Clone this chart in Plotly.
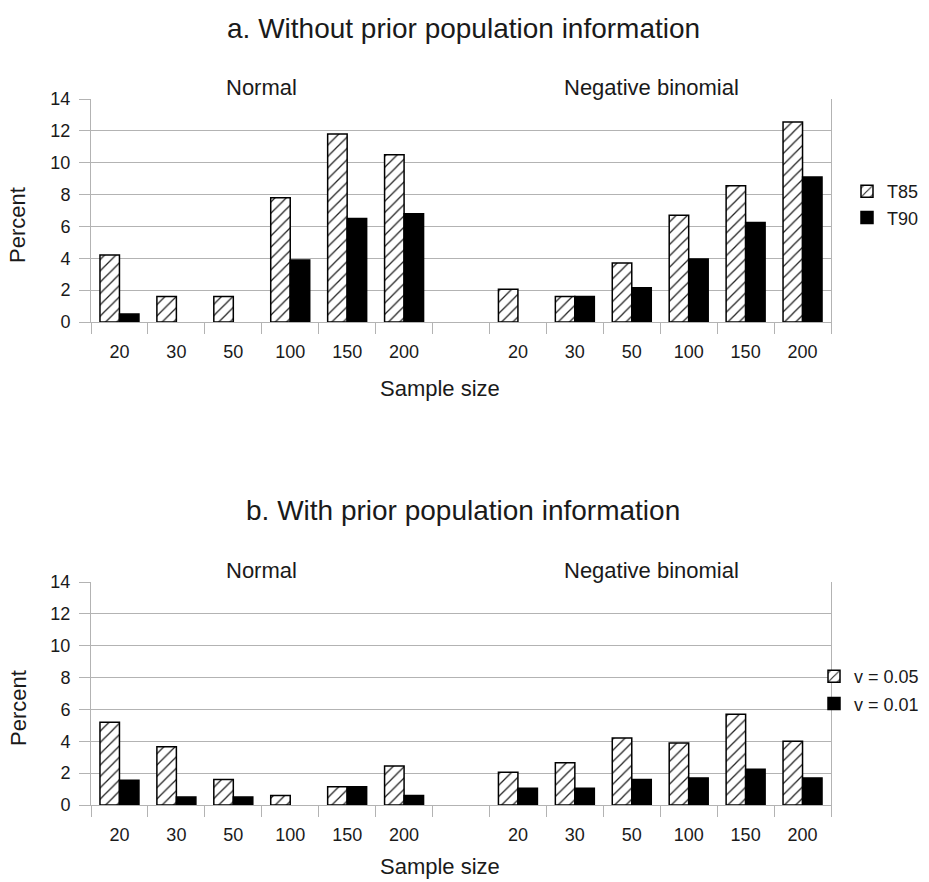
import plotly.graph_objects as go

# ---- data ----
sample_sizes = ["20", "30", "50", "100", "150", "200"]
groups = ["Normal", "Negative binomial"]

# a. Without prior population information
a_t85_normal = [4.2, 1.6, 1.6, 7.8, 11.8, 10.5]
a_t90_normal = [0.5, 0, 0, 3.9, 6.5, 6.8]
a_t85_negbin = [2.05, 1.6, 3.7, 6.7, 8.55, 12.55]
a_t90_negbin = [0, 1.6, 2.15, 3.95, 6.25, 9.1]

# b. With prior population information
b_v05_normal = [5.2, 3.65, 1.6, 0.6, 1.15, 2.45]
b_v01_normal = [1.55, 0.5, 0.5, 0, 1.15, 0.6]
b_v05_negbin = [2.05, 2.65, 4.2, 3.9, 5.7, 4.0]
b_v01_negbin = [1.05, 1.05, 1.6, 1.7, 2.25, 1.7]

# category positions: 6 normal slots, one empty slot, 6 negative-binomial slots
n = len(sample_sizes)
pos = list(range(n)) + [n + 1 + i for i in range(n)]
ticklabels = sample_sizes + sample_sizes
boundaries = [i - 0.5 for i in range(2 * n + 2)]

FONT = "Liberation Sans, Arial, sans-serif"
GRID = "#b3b3b3"
TXT = "#1a1a1a"

W, H = 929, 882
def px(x):
    return x / W
def py(y):
    return 1 - y / H

def nz(vals):
    # zero-height bars are not drawn in the reference
    return [v if v > 0 else None for v in vals]

fig = go.Figure()

hatch = dict(shape="/", fgcolor="#222222", bgcolor="white", size=8, solidity=0.16)

def add_pair(v1, v2, name1, name2, xa, ya, leg):
    fig.add_trace(go.Bar(
        x=pos, y=nz(v1), name=name1, xaxis=xa, yaxis=ya, legend=leg,
        legendgroup=leg + "1",
        marker=dict(color="white", pattern=hatch, line=dict(color="black", width=1.5)),
    ))
    fig.add_trace(go.Bar(
        x=pos, y=nz(v2), name=name2, xaxis=xa, yaxis=ya, legend=leg,
        legendgroup=leg + "2",
        marker=dict(color="black", line=dict(color="black", width=1.5)),
    ))

add_pair(a_t85_normal + a_t85_negbin, a_t90_normal + a_t90_negbin, "T85", "T90", "x", "y", "legend")
add_pair(b_v05_normal + b_v05_negbin, b_v01_normal + b_v01_negbin, "v = 0.05", "v = 0.01", "x2", "y2", "legend2")

xcommon = dict(
    range=[-0.5, 2 * n + 0.5], tickmode="array", tickvals=pos, ticktext=ticklabels,
    ticks="outside", ticklen=13, tickcolor="rgba(0,0,0,0)",
    showgrid=False, zeroline=False, showline=True, linecolor=GRID, linewidth=1,
    tickfont=dict(family=FONT, size=18, color=TXT),
    minor=dict(tickmode="array", tickvals=boundaries, ticks="outside", ticklen=11,
               tickcolor=GRID, tickwidth=1, showgrid=False),
    fixedrange=True, automargin=False,
)
ycommon = dict(
    range=[0, 14], dtick=2, tick0=0, ticks="outside", ticklen=11, tickcolor=GRID,
    showgrid=True, gridcolor=GRID, gridwidth=1, zeroline=False,
    showline=True, linecolor=GRID, linewidth=1, mirror=True,
    tickfont=dict(family=FONT, size=18, color=TXT), ticklabelstandoff=5,
    fixedrange=True, automargin=False,
)

dom_x = [px(91), px(831)]
fig.update_layout(
    template="none",
    width=W, height=H,
    margin=dict(l=0, r=0, t=0, b=0, pad=0, autoexpand=False),
    paper_bgcolor="white", plot_bgcolor="white",
    barmode="group", bargap=0.315, bargroupgap=0,
    font=dict(family=FONT, size=18, color=TXT),
    xaxis=dict(domain=dom_x, anchor="y", **xcommon),
    yaxis=dict(domain=[py(322), py(99)], anchor="x", **ycommon),
    xaxis2=dict(domain=dom_x, anchor="y2", **xcommon),
    yaxis2=dict(domain=[py(805), py(582)], anchor="x2", **ycommon),
    legend=dict(x=px(847), y=py(173), xanchor="left", yanchor="top",
                font=dict(family=FONT, size=18, color=TXT), tracegroupgap=0,
                traceorder="grouped", bgcolor="rgba(0,0,0,0)"),
    legend2=dict(x=px(814), y=py(658), xanchor="left", yanchor="top",
                 font=dict(family=FONT, size=18, color=TXT), tracegroupgap=1,
                 traceorder="grouped", bgcolor="rgba(0,0,0,0)"),
    showlegend=True,
)

annotations = [
    dict(text="a. Without prior population information", x=px(463), y=py(28),
         font=dict(size=28)),
    dict(text="b. With prior population information", x=px(463), y=py(510),
         font=dict(size=28)),
    dict(text="Sample size", x=px(440), y=py(388), font=dict(size=22)),
    dict(text="Sample size", x=px(440), y=py(866), font=dict(size=22)),
    dict(text="Percent", x=px(18), y=py(225), font=dict(size=22), textangle=-90),
    dict(text="Percent", x=px(18), y=py(708), font=dict(size=22), textangle=-90),
]
for a in annotations:
    a.update(xref="paper", yref="paper", showarrow=False, xanchor="center", yanchor="middle")
    a["font"].update(family=FONT, color=TXT)

centers = [(n - 1) / 2, n + 1 + (n - 1) / 2 - 0.15]
for xa, yy in [("x", py(87)), ("x2", py(570))]:
    for g, c in zip(groups, centers):
        annotations.append(dict(text=g, x=c, y=yy, xref=xa, yref="paper", showarrow=False,
                                xanchor="center", yanchor="middle",
                                font=dict(family=FONT, size=22, color=TXT)))

fig.update_layout(annotations=annotations)
fig.write_html(
    "out.html",
    config={"displayModeBar": False},
    post_script=(
        "document.documentElement.style.margin='0';"
        "document.body.style.margin='0';"
        "document.body.style.overflow='hidden';"
        "var d=document.getElementById('{plot_id}');"
        "d.style.position='fixed';d.style.top='0';d.style.left='0';"
    ),
)
